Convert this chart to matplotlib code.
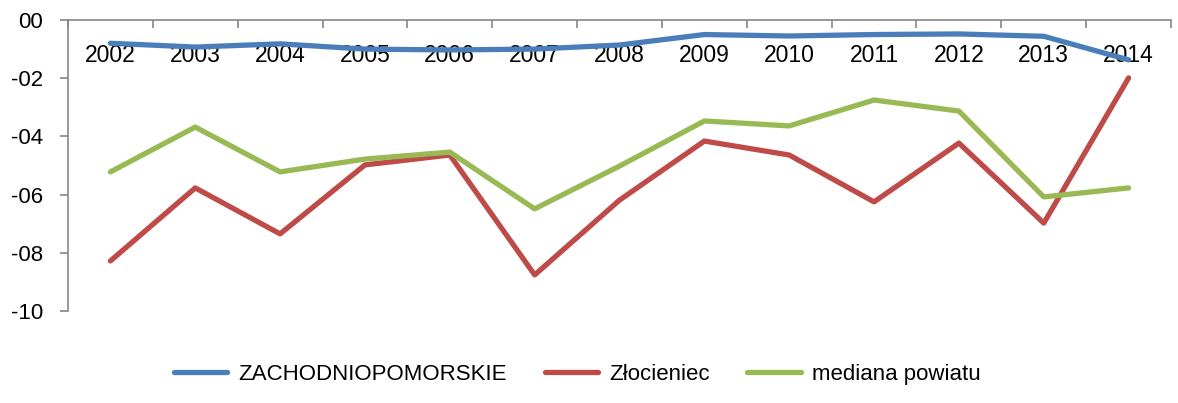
import matplotlib
matplotlib.use("Agg")
import matplotlib.pyplot as plt
from matplotlib.ticker import FuncFormatter, FixedLocator

years = ["2002", "2003", "2004", "2005", "2006", "2007", "2008",
         "2009", "2010", "2011", "2012", "2013", "2014"]
zachodniopomorskie = [-0.80, -0.93, -0.82, -1.00, -1.03, -1.00, -0.86,
                      -0.50, -0.55, -0.50, -0.48, -0.56, -1.37]
zlocieniec = [-8.28, -5.77, -7.35, -4.98, -4.64, -8.76, -6.19,
              -4.16, -4.64, -6.25, -4.23, -6.98, -1.99]
mediana = [-5.22, -3.68, -5.22, -4.78, -4.54, -6.49, -5.02,
           -3.47, -3.64, -2.75, -3.13, -6.08, -5.77]

plt.rcParams["font.family"] = ["Liberation Sans", "DejaVu Sans"]
GRAY = "#868686"

fig = plt.figure(figsize=(11.78, 4.03), dpi=100)
ax = fig.add_axes([0.0577, 0.2283, 0.9364, 0.7221])

x = range(len(years))
ax.plot(x, zachodniopomorskie, color="#4A7EBB", lw=3.8, label="ZACHODNIOPOMORSKIE",
        solid_capstyle="round")
ax.plot(x, zlocieniec, color="#BE4B48", lw=3.8, label="Złocieniec", solid_capstyle="round")
ax.plot(x, mediana, color="#98B954", lw=3.8, label="mediana powiatu", solid_capstyle="round")

ax.set_xlim(-0.5, len(years) - 0.5)
ax.set_ylim(-10, 0)

# x axis sits at the top (y = 0), labels hang below it
ax.xaxis.set_ticks_position("top")
ax.set_xticks(list(x))
ax.set_xticklabels(years)
ax.xaxis.set_minor_locator(FixedLocator([i - 0.5 for i in range(len(years) + 1)]))
ax.tick_params(axis="x", which="major", length=0, labelsize=16.5, pad=-34)
ax.tick_params(axis="x", which="minor", direction="in", length=5.5, color=GRAY, width=1.2)

ax.set_yticks(range(-10, 1, 2))
ax.yaxis.set_major_formatter(FuncFormatter(
    lambda v, _: f"{'-' if v < 0 else ''}{abs(int(round(v))):02d}"))
ax.tick_params(axis="y", direction="out", length=6, color=GRAY, width=1.2,
               labelsize=16, pad=12)

for s in ("bottom", "right"):
    ax.spines[s].set_visible(False)
for s in ("top", "left"):
    ax.spines[s].set_color(GRAY)
    ax.spines[s].set_linewidth(1.2)

fig.legend(loc="lower center", bbox_to_anchor=(0.49, -0.005), ncol=3, frameon=False,
           fontsize=16, handlelength=2.4, columnspacing=1.7, handletextpad=0.5)

fig.savefig("out.png", dpi=100)
